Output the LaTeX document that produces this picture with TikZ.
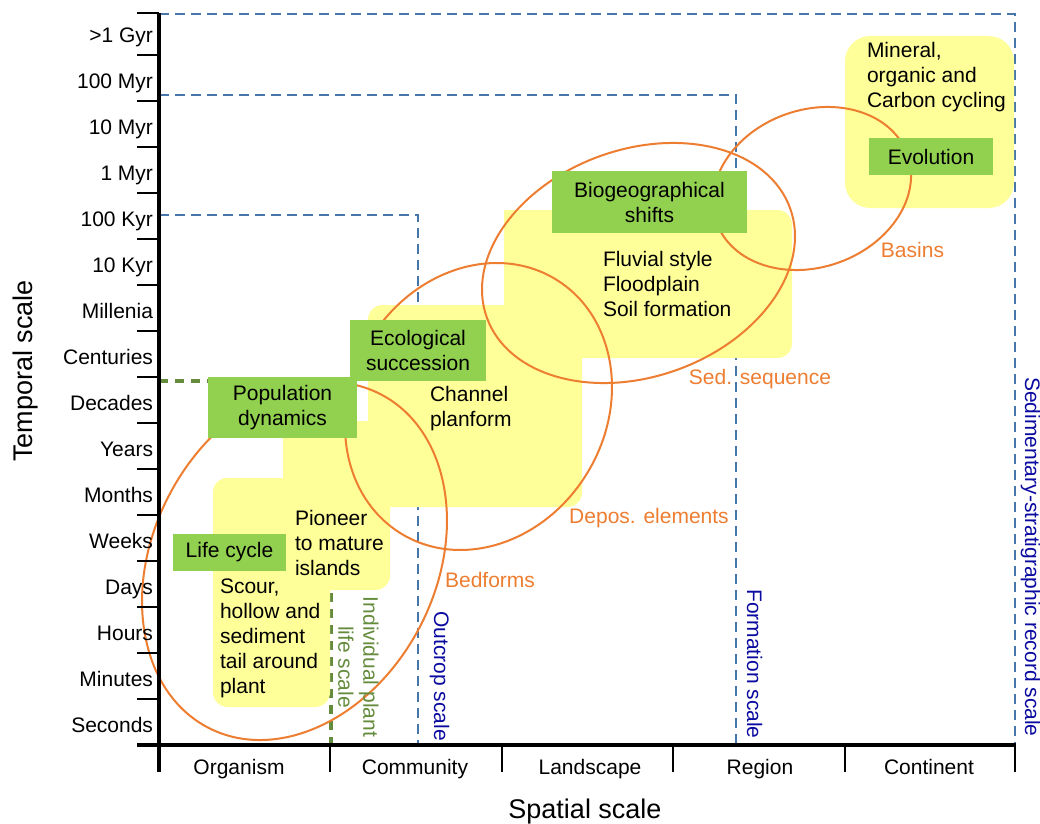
\documentclass[tikz,border=0pt]{standalone}
\usepackage{fontspec}
\setmainfont{Liberation Sans}
\definecolor{ybg}{RGB}{255,255,153}
\definecolor{gboxc}{RGB}{146,208,80}
\definecolor{orng}{RGB}{237,125,49}
\definecolor{dblue}{RGB}{70,118,170}
\definecolor{dgreen}{RGB}{100,140,60}
\definecolor{tblue}{RGB}{10,10,160}
\begin{document}
\begin{tikzpicture}[x=0.75pt,y=-0.75pt,
  every node/.style={inner sep=0pt, outer sep=0pt},
  body/.style={font=\fontsize{15.75}{18.75}\selectfont},
  axtitle/.style={font=\fontsize{20.25}{24}\selectfont},
  gbox/.style={body, fill=gboxc, align=center},
  ytxt/.style={body, align=left, anchor=west},
  olbl/.style={body, text=orng, anchor=base},
  blbl/.style={body, text=tblue, rotate=-90, anchor=base},
  bdash/.style={draw=dblue, line width=2pt, dash pattern=on 7.5pt off 4.5pt},
  gdash/.style={draw=dgreen, line width=2.5pt, dash pattern=on 7pt off 5pt},
  yel/.style={fill=ybg, rounded corners=11pt},
  oell/.style={draw=orng, line width=1.5pt},
  axisline/.style={line width=3.4pt},
  tickline/.style={line width=2.2pt},
]
\useasboundingbox (0,0) rectangle (1040,824);

% scale boundaries
\draw[bdash] (159,14) -- (1015,14) -- (1015,745);
\draw[bdash] (159,95) -- (736,95) -- (736,745);
\draw[bdash] (159,215) -- (418,215) -- (418,745);
\draw[gdash] (159,381) -- (331,381) -- (331,745);

% yellow regions
\fill[yel] (213,478) rectangle (390,590);
\fill[yel] (213,478) rectangle (330,707);
\fill[ybg] (283,421) rectangle (570,507);
\fill[yel] (368,305) rectangle (582,507);
\fill[yel] (504,210) rectangle (792,358);
\fill[ybg] (504,210) rectangle (530,240);
\fill[yel, rounded corners=19pt] (845,36) rectangle (1014,208);

% orange ellipses
\draw[oell, rotate around={62.7:(294.5,561)}] (294.5,561) ellipse (187.7 and 141.6);
\draw[oell, rotate around={59:(478.5,406.5)}] (478.5,406.5) ellipse (148.8 and 127.5);
\draw[oell, rotate around={19.8:(638.5,263)}] (638.5,263) ellipse (161.2 and 113.6);
\draw[oell, rotate around={19.5:(812,188.5)}] (812,188.5) ellipse (101.3 and 78.7);

% green boxes
\node[gbox, minimum width=111.75pt, minimum height=45.75pt] (popdyn) at (282.5,407.5) {Population\\dynamics};
\node[gbox, minimum width=102pt, minimum height=45.75pt] (ecosucc) at (418,350.5) {Ecological\\succession};
\node[gbox, minimum width=146.25pt, minimum height=46.5pt] (biogeo) at (649.5,202) {Biogeographical\\shifts};
\node[gbox, minimum width=84.75pt, minimum height=27.75pt] (lifecycle) at (229.5,552.5) {Life cycle};
\node[gbox, minimum width=93pt, minimum height=27.75pt] (evolution) at (931,156.5) {Evolution};

% texts on yellow
\node[ytxt] (mineral) at (867,77) {Mineral,\\organic and\\Carbon cycling};
\node[ytxt] (fluvial) at (603,284) {Fluvial style\\Floodplain\\Soil formation};
\node[ytxt] (channel) at (430,408.5) {Channel\\planform};
\node[ytxt] (pioneer) at (295,543) {Pioneer\\to mature\\islands};
\node[ytxt] (scour) at (220,638) {Scour,\\hollow and\\sediment\\tail around\\plant};

% orange labels
\node[olbl] (bedforms) at (490,587.5) {Bedforms};
\node[olbl] (depos) at (649,523.5) {Depos. elements};
\node[olbl] (sedseq) at (760,384.5) {Sed. sequence};
\node[olbl] (basins) at (912.5,257.5) {Basins};

% rotated scale labels
\node[blbl] (outcrop) at (434,676) {Outcrop scale};
\node[blbl] (formation) at (747,664) {Formation scale};
\node[blbl] (sedstrat) at (1025,557) {Sedimentary-stratigraphic record scale};
\node[body, text=dgreen, rotate=-90, align=center] (indiv) at (358.5,667) {Individual plant\\life scale};

% axes
\draw[axisline] (159,13) -- (159,772);
\draw[axisline] (137,745) -- (1016,745);
\foreach \yy in {13,55,101,147,193,239,285,331,377,423,469,515,561,607,653,699}
  \draw[tickline] (137,\yy) -- (159,\yy);
\foreach \xx in {330,502,673,845,1015}
  \draw[tickline] (\xx,745) -- (\xx,772);

% tick labels
\foreach \lab [count=\i] in {{>1 Gyr},{100 Myr},{10 Myr},{1 Myr},{100 Kyr},{10 Kyr},Millenia,Centuries,Decades,Years,Months,Weeks,Days,Hours,Minutes,Seconds}
  \node[body, anchor=base east] (tl\i) at (153,{35+46*(\i-1)+7.5}) {\lab};

\node[body, anchor=base] (organism) at (239,774.5) {Organism};
\node[body, anchor=base] (community) at (415,774.5) {Community};
\node[body, anchor=base] (landscape) at (590,774.5) {Landscape};
\node[body, anchor=base] (region) at (760,774.5) {Region};
\node[body, anchor=base] (continent) at (929,774.5) {Continent};

\node[axtitle, rotate=90, anchor=base] (ytitle) at (32,371) {Temporal scale};
\node[axtitle, anchor=base] (xtitle) at (585,818) {Spatial scale};
\end{tikzpicture}
\end{document}
